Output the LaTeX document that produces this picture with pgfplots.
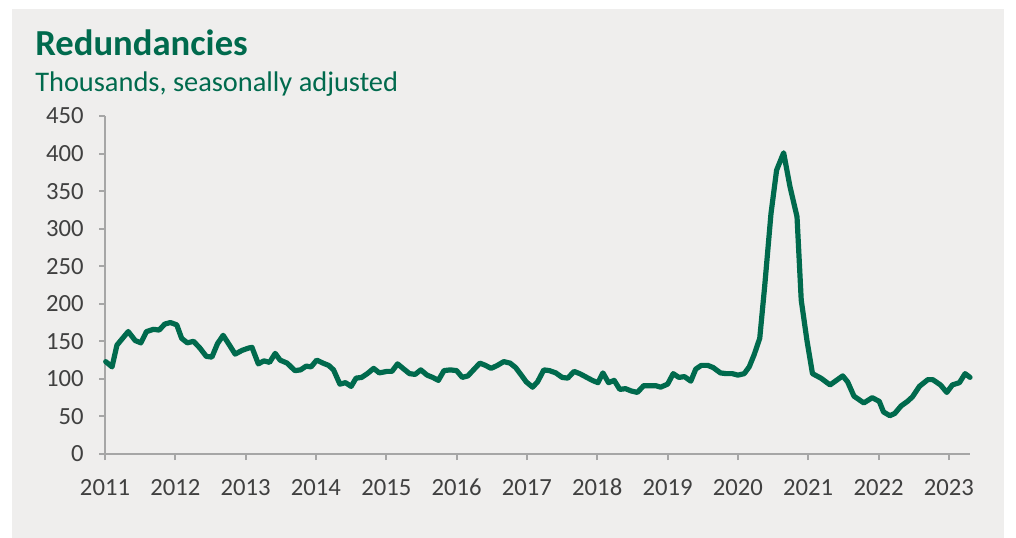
\documentclass[border=0pt]{standalone}
\usepackage{pgfplots}
\pgfplotsset{compat=1.18}
\usepackage{fontspec}
\setmainfont{Carlito}
\definecolor{lgreen}{HTML}{006A4D}
\definecolor{panel}{HTML}{EFEEED}
\definecolor{axgray}{HTML}{A6A6A6}
\definecolor{lblgray}{HTML}{404040}
\begin{document}
\begin{tikzpicture}
\fill[white] (0pt,0pt) rectangle (762pt,-403.5pt);
\fill[panel] (9pt,-6.75pt) rectangle (753pt,-403.5pt);
\node[anchor=base west,inner sep=0pt,text=lgreen,font=\fontsize{27.5}{32}\selectfont\bfseries] at (26.25pt,-42pt) {Redundancies};
\node[anchor=base west,inner sep=0pt,text=lgreen,font=\fontsize{21.3}{25}\selectfont] at (26.25pt,-69pt) {Thousands, seasonally adjusted};
\begin{axis}[
  at={(78.75pt,-340.5pt)}, anchor=south west,
  scale only axis, width=648.75pt, height=253.5pt,
  xmin=2011, xmax=2023.30, ymin=0, ymax=450,
  axis x line=bottom, axis y line=left,
  axis line style={-, axgray, line width=1.5pt},
  xtick={2011,...,2023}, ytick={0,50,...,450},
  tick align=outside, major tick length=4.5pt,
  tick style={axgray, line width=1.5pt},
  /pgf/number format/assume math mode=true,
  xticklabel={\pgfmathprintnumber[1000 sep={},fixed]{\tick}},
  tick label style={font=\fontsize{18.5}{22}\selectfont, text=lblgray},
  xticklabel style={anchor=north, text height=12pt, text depth=0pt, yshift=-11pt},
  yticklabel style={xshift=-8pt},
  clip=false,
]
\addplot[lgreen, line width=3.9pt, line join=round, line cap=round] table {
x y
2011.01 123
2011.10 116
2011.17 145
2011.33 163
2011.43 151
2011.51 148
2011.59 163
2011.69 166
2011.77 165
2011.85 173
2011.93 175
2012.02 172
2012.09 154
2012.17 148
2012.26 150
2012.35 141
2012.44 130
2012.52 129
2012.60 147
2012.68 158
2012.77 145
2012.85 133
2012.95 138
2013.04 141
2013.09 142
2013.18 120
2013.26 124
2013.34 122
2013.42 134
2013.49 125
2013.59 121
2013.70 111
2013.78 112
2013.86 117
2013.93 116
2014.01 125
2014.10 121
2014.18 118
2014.25 112
2014.34 93
2014.42 95
2014.50 90
2014.57 101
2014.65 102
2014.73 107
2014.82 114
2014.90 108
2015.01 110
2015.08 110
2015.16 120
2015.25 113
2015.33 107
2015.41 106
2015.49 112
2015.58 105
2015.66 102
2015.74 98
2015.82 111
2015.91 112
2016.00 111
2016.08 102
2016.16 104
2016.24 112
2016.33 121
2016.41 118
2016.49 114
2016.58 118
2016.67 123
2016.76 121
2016.84 115
2016.92 105
2016.99 96
2017.08 89
2017.15 96
2017.24 112
2017.32 111
2017.41 108
2017.50 102
2017.58 101
2017.67 110
2017.75 107
2017.83 103
2017.93 98
2018.01 95
2018.08 108
2018.16 95
2018.24 98
2018.32 86
2018.40 87
2018.48 84
2018.57 82
2018.66 91
2018.75 91
2018.83 91
2018.90 89
2019.00 93
2019.08 107
2019.16 102
2019.24 103
2019.33 97
2019.40 113
2019.48 118
2019.57 118
2019.65 115
2019.75 108
2019.83 107
2019.92 107
2020.00 105
2020.09 107
2020.16 116
2020.23 132
2020.31 154
2020.38 223
2020.47 320
2020.55 378
2020.65 401
2020.74 356
2020.84 316
2020.90 205
2020.98 152
2021.06 107
2021.18 101
2021.31 92
2021.49 104
2021.56 96
2021.65 77
2021.79 68
2021.91 75
2022.01 70
2022.07 56
2022.16 51
2022.23 54
2022.32 64
2022.41 70
2022.48 76
2022.58 90
2022.70 99
2022.77 99
2022.88 92
2022.97 82
2023.05 92
2023.15 95
2023.23 107
2023.30 102
};
\end{axis}
\end{tikzpicture}
\end{document}
